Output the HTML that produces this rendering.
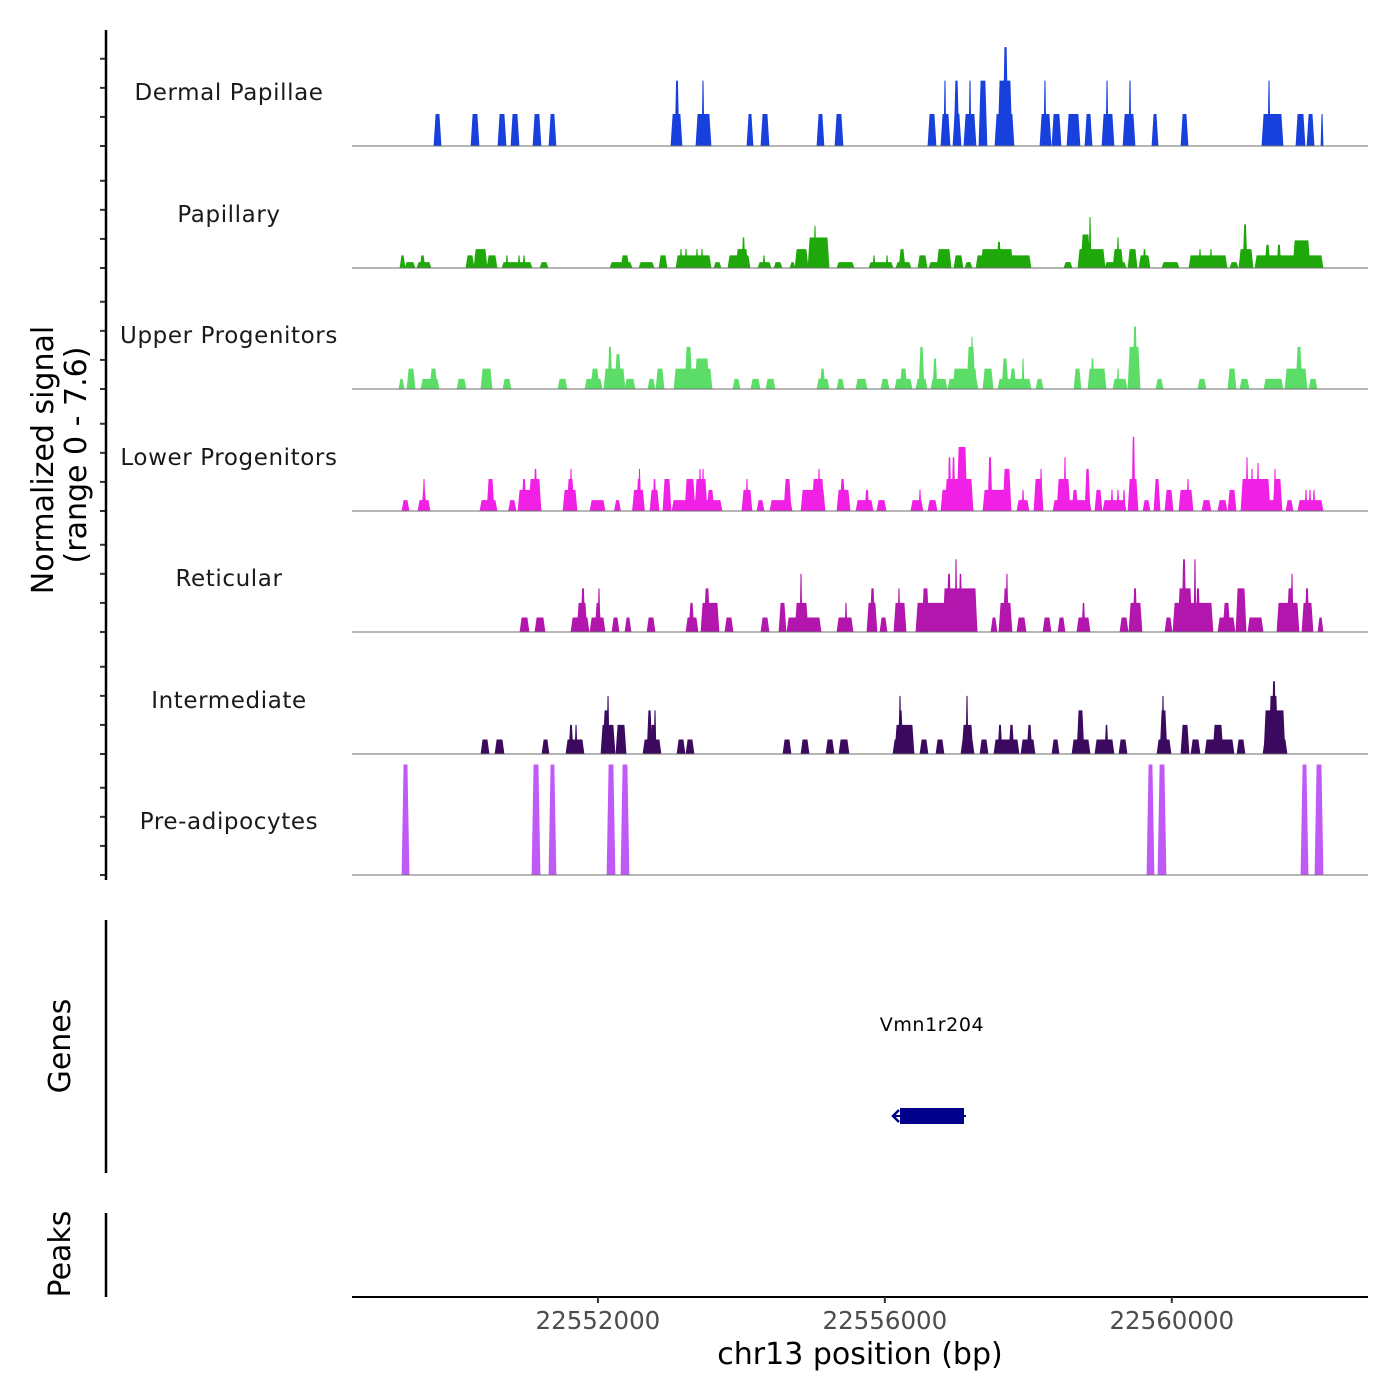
<!DOCTYPE html>
<html><head><meta charset="utf-8"><style>
html,body{margin:0;padding:0;background:#fff;}
svg{display:block;font-family:"DejaVu Sans","Liberation Sans",sans-serif;}
</style></head><body>
<svg id="chart" width="1400" height="1400" viewBox="0 0 1400 1400" xmlns="http://www.w3.org/2000/svg">
<g id="tracks"></g>
<g id="axes"></g>
</svg>
<script>
const regionStart = 22548572;
const regionEnd = 22562735;
const trackNames = ["Dermal Papillae","Papillary","Upper Progenitors","Lower Progenitors","Reticular","Intermediate","Pre-adipocytes"];
const trackColors = ["#1740dd","#1fa80a","#5bdd68","#f020e5","#b216ac","#3b0a5f","#c05af7"];
const yMax = 7.6;
const xTicks = [22552000, 22556000, 22560000];
const xTickLabels = ["22552000","22556000","22560000"];
const yTicks = [0,2,4,6];
// segments: [startOffsetBp, endOffsetBp, signal]
const dermalPapillae = [[1143,1241,2.2],[1659,1770,2.2],[2035,2147,2.2],[2216,2328,2.2],[2523,2634,2.2],[2746,2843,2.2],[4447,4600,2.2],[4503,4558,4.5],[4795,5004,2.2],[4879,4907,4.5],[5506,5590,2.2],[5701,5813,2.2],[6482,6579,2.2],[6733,6844,2.2],[8029,8141,2.2],[8210,8336,2.2],[8252,8280,4.5],[8378,8489,2.2],[8392,8461,4.5],[8531,8698,2.2],[8601,8629,4.5],[8740,8851,4.5],[8963,9228,2.2],[9005,9200,4.5],[9075,9145,6.8],[9591,9744,2.2],[9646,9674,4.5],[9758,9883,2.2],[9967,10148,2.2],[10218,10316,2.2],[10455,10622,2.2],[10511,10539,4.5],[10748,10915,2.2],[10831,10859,4.5],[11152,11236,2.2],[11556,11654,2.2],[12685,12978,2.2],[12769,12797,4.5],[13159,13285,2.2],[13313,13411,2.2],[13508,13536,2.2]];
const papillary = [[669,739,0.87],[739,878,0.4],[906,1101,0.4],[948,1018,0.87],[1589,1701,0.87],[1701,1882,1.3],[1882,2021,0.87],[2091,2509,0.4],[2146,2174,0.87],[2314,2342,0.87],[2384,2412,0.87],[2621,2732,0.4],[3597,3903,0.4],[3750,3861,0.87],[4001,4210,0.4],[4280,4391,0.87],[4517,5005,0.87],[4572,4600,1.3],[4642,4670,1.3],[4795,4823,1.3],[4865,4893,1.3],[5046,5144,0.4],[5241,5548,0.87],[5353,5520,1.3],[5437,5478,2.1],[5660,5841,0.4],[5730,5758,0.87],[5883,5994,0.4],[6106,6176,0.4],[6176,6357,1.3],[6357,6650,2.1],[6440,6468,2.9],[6761,6998,0.4],[7207,7542,0.4],[7263,7291,0.87],[7444,7472,0.87],[7583,7792,0.4],[7625,7709,1.3],[7890,8016,0.87],[8043,8350,0.4],[8155,8350,1.3],[8392,8517,0.87],[8545,8643,0.4],[8699,9465,0.87],[8768,9214,1.3],[8991,9047,1.8],[9925,10037,0.4],[10120,10497,1.3],[10162,10288,2.3],[10274,10302,3.5],[10497,10790,0.4],[10608,10748,1.3],[10664,10692,2.1],[10818,10943,1.3],[10971,11124,0.87],[11027,11068,1.3],[11291,11528,0.4],[11668,12198,0.87],[11807,11835,1.3],[11960,11988,1.3],[12239,12351,0.4],[12365,12560,1.3],[12421,12477,3.0],[12588,13536,0.87],[12727,12797,1.6],[12894,12950,1.6],[13118,13354,1.9]];
const upperProgenitors = [[655,725,0.7],[767,878,1.4],[962,1213,0.7],[1087,1185,1.4],[1464,1589,0.7],[1798,1952,1.4],[2105,2216,0.7],[2872,2997,0.7],[3248,3485,0.7],[3332,3443,1.4],[3513,3806,1.4],[3569,3624,2.9],[3666,3750,2.4],[3806,3945,0.7],[4126,4224,0.7],[4238,4349,1.4],[4489,5018,1.4],[4642,4740,2.9],[4781,4977,2.1],[5311,5409,0.7],[5562,5688,0.7],[5771,5897,0.7],[6482,6650,0.7],[6524,6594,1.4],[6761,6858,0.7],[7026,7179,0.7],[7374,7486,0.7],[7569,7806,0.7],[7639,7737,1.4],[7862,8016,0.7],[7904,7974,2.9],[8071,8294,0.7],[8099,8155,2.1],[8308,8726,0.7],[8378,8713,1.4],[8573,8685,2.9],[8629,8657,3.6],[8796,8936,1.4],[9005,9465,0.7],[9061,9145,2.1],[9172,9256,1.4],[9340,9368,2.1],[9535,9633,0.7],[10065,10162,1.4],[10260,10511,1.4],[10302,10343,2.1],[10608,10804,0.7],[10664,10692,1.4],[10818,10985,2.9],[10887,10943,4.3],[11208,11305,0.7],[11793,11905,0.7],[12211,12323,1.4],[12379,12504,0.7],[12713,12978,0.7],[13006,13313,1.4],[13159,13243,2.9],[13341,13452,0.7]];
const lowerProgenitors = [[697,795,0.75],[920,1087,0.75],[976,1032,1.45],[990,1018,2.2],[1784,2021,0.75],[1882,1980,2.2],[2183,2286,0.75],[2314,2634,1.45],[2370,2426,2.2],[2467,2634,2.2],[2537,2579,2.9],[2942,3137,1.45],[2997,3095,2.2],[3039,3067,2.9],[3318,3527,0.75],[3659,3743,0.75],[3910,4077,1.45],[3966,4035,2.2],[3994,4021,2.9],[4154,4280,1.45],[4196,4238,2.2],[4335,4447,2.2],[4461,5157,0.75],[4642,4781,2.2],[4781,4949,2.2],[4837,4865,2.9],[4879,4907,2.9],[4949,5046,1.45],[5436,5576,1.45],[5492,5520,2.2],[5646,5743,0.75],[5827,6134,0.75],[6022,6120,2.2],[6260,6594,1.45],[6413,6580,2.2],[6496,6524,2.9],[6761,6942,1.45],[6803,6873,2.2],[7026,7263,0.75],[7151,7207,1.45],[7318,7444,0.75],[7792,7959,0.75],[7904,7932,1.45],[8029,8155,0.75],[8210,8657,1.45],[8267,8657,2.2],[8308,8350,3.7],[8364,8406,3.7],[8434,8573,4.4],[8796,9186,1.45],[8866,8922,3.7],[9075,9186,2.9],[9270,9437,0.75],[9340,9368,1.45],[9507,9633,2.2],[9591,9619,2.9],[9772,10302,0.75],[9828,10009,2.2],[9925,9953,3.7],[10037,10120,1.45],[10218,10288,2.9],[10357,10455,1.45],[10469,10790,0.75],[10580,10608,1.45],[10664,10692,1.45],[10748,10776,1.45],[10818,10957,2.2],[10873,10915,5.1],[11027,11124,0.75],[11180,11264,2.2],[11333,11445,1.45],[11528,11724,1.45],[11640,11668,2.2],[11849,11974,0.75],[12072,12198,0.75],[12211,12323,1.45],[12393,12964,0.75],[12393,12797,2.2],[12463,12490,3.7],[12532,12560,2.9],[12616,12644,3.3],[12839,12964,2.2],[12853,12880,2.9],[13020,13118,0.75],[13187,13536,0.75],[13285,13313,1.45],[13341,13369,1.45],[13396,13424,1.45]];
const reticular = [[2342,2467,1],[2551,2690,1],[3053,3304,1],[3137,3276,2],[3192,3248,3],[3318,3527,1],[3388,3471,2],[3429,3457,3],[3625,3722,1],[3806,3889,1],[4113,4224,1],[4656,4823,1],[4698,4767,2],[4865,5116,2],[4907,4990,3],[5199,5311,1],[5701,5813,1],[5952,6050,2],[6064,6538,1],[6176,6357,2],[6245,6273,4],[6761,6984,1],[6872,6900,2],[7179,7318,2],[7221,7291,3],[7360,7458,1],[7555,7723,2],[7611,7639,3],[7862,8713,2],[7946,8043,3],[8238,8713,3],[8294,8350,4],[8406,8434,5],[8461,8503,4],[8908,8991,1],[9019,9200,2],[9075,9158,3],[9116,9144,4],[9270,9396,1],[9633,9744,1],[9842,9939,1],[10106,10288,1],[10176,10218,2],[10706,10818,1],[10831,11012,2],[10887,10943,3],[11333,11431,1],[11445,12002,2],[11514,11710,3],[11570,11626,5],[11737,11765,5],[11765,11821,3],[12072,12309,1],[12142,12239,2],[12323,12463,3],[12490,12700,1],[12894,13201,2],[13034,13118,3],[13090,13118,4],[13243,13396,2],[13285,13341,3],[13466,13536,1]];
const intermediate = [[1798,1910,1],[1994,2119,1],[2649,2746,1],[2983,3234,1],[3025,3081,2],[3109,3137,2],[3471,3666,2],[3499,3583,3],[3555,3583,4],[3680,3820,2],[4057,4307,1],[4113,4182,3],[4154,4238,2],[4210,4238,3],[4531,4642,1],[4656,4767,1],[6008,6120,1],[6259,6371,1],[6608,6719,1],[6789,6928,1],[7542,7834,1],[7569,7834,2],[7611,7681,3],[7625,7653,4],[7918,8029,1],[8141,8252,1],[8489,8671,1],[8503,8657,2],[8559,8587,4],[8754,8866,1],[8949,9298,1],[9005,9061,2],[9158,9228,2],[9326,9521,1],[9409,9479,2],[9758,9856,1],[10037,10288,1],[10106,10204,3],[10357,10622,1],[10497,10539,2],[10692,10804,1],[11222,11417,1],[11264,11361,3],[11291,11319,4],[11556,11668,2],[11696,11821,1],[11891,12295,1],[12002,12142,2],[12337,12448,1],[12700,13034,1],[12713,13006,3],[12783,12908,4],[12825,12880,5]];
const preAdipocytes = [[697,795,7.6],[2509,2621,7.6],[2746,2843,7.6],[3555,3666,7.6],[3750,3861,7.6],[11082,11180,7.6],[11236,11347,7.6],[13229,13327,7.6],[13424,13536,7.6]];
const geneName = "Vmn1r204";
const geneStart = 22556211;
const geneEnd = 22557103;

const NS = "http://www.w3.org/2000/svg";
const plotL = 352, plotR = 1368;
const baselines = [146,268,389,511,632,754,875];
const unitPx = 110.5 / yMax;
function xScale(pos){ return plotL + (pos - regionStart) / (regionEnd - regionStart) * (plotR - plotL); }
function xOff(off){ return xScale(regionStart + off); }
function yScale(t, v){ return baselines[t] - v * unitPx; }
function mk(tag, attrs, parent){
  const el = document.createElementNS(NS, tag);
  for (const k in attrs) el.setAttribute(k, attrs[k]);
  parent.appendChild(el);
  return el;
}
const tracksG = document.getElementById('tracks');
const axesG = document.getElementById('axes');
const allData = [dermalPapillae, papillary, upperProgenitors, lowerProgenitors, reticular, intermediate, preAdipocytes];
const slugs = ["dermal-papillae","papillary","upper-progenitors","lower-progenitors","reticular","intermediate","pre-adipocytes"];

allData.forEach((segs, t) => {
  const g = mk('g', {}, tracksG);
  
  
  segs.forEach(s => {
    const w = xOff(s[1]) - xOff(s[0]);
    const x0 = xOff(s[0]) - 0.4, x1 = xOff(s[1]) + 0.4;
    const yb = baselines[t], yt = yScale(t, s[2]);
    const tp = Math.min(2, (w + 0.8) / 3.2);
    const p = mk('polygon', {points: `${x0},${yb} ${x0+tp},${yt} ${x1-tp},${yt} ${x1},${yb}`, fill: trackColors[t]}, g);
    
    
  });
  const bl = mk('line', {x1: plotL, x2: plotR, y1: baselines[t], y2: baselines[t], stroke: '#6e6e6e', 'stroke-width': 1}, g);
  
  
  const lab = mk('text', {x: 229, y: baselines[t] - 46, 'text-anchor': 'middle', 'font-size': 23, fill: '#1a1a1a', 'letter-spacing': '0.6'}, g);
  lab.textContent = trackNames[t];
  
  
  yTicks.forEach(v => {
    const tk = mk('line', {x1: 100, x2: 106, y1: yScale(t, v), y2: yScale(t, v), stroke: '#333', 'stroke-width': 2}, axesG);
    
    
  });
});

[[30,880,'signal-axis-line'],[920,1173,'genes-axis-line'],[1213,1297,'peaks-axis-line']].forEach(a => {
  const l = mk('line', {x1: 106, x2: 106, y1: a[0], y2: a[1], stroke: '#000', 'stroke-width': 2.5}, axesG);
  
  
});

function rotText(x, y, txt, size, name){
  const t = mk('text', {x: x, y: y, transform: `rotate(-90 ${x} ${y})`, 'text-anchor': 'middle', 'font-size': size, fill: '#000'}, axesG);
  t.textContent = txt;
  
  
}
rotText(53, 460, "Normalized signal", 30, 'y-axis-title');
rotText(86, 455, "(range 0 - 7.6)", 30, 'y-axis-range');
rotText(70, 1046, "Genes", 30, 'genes-title');
rotText(70, 1254, "Peaks", 30, 'peaks-title');

const gx0 = xScale(geneStart), gx1 = xScale(geneEnd);
const gene = mk('rect', {x: gx0, y: 1108, width: gx1 - gx0, height: 16, fill: '#00008b'}, tracksG);


const gl = mk('line', {x1: gx0 - 6, x2: gx1 + 2, y1: 1116, y2: 1116, stroke: '#00008b', 'stroke-width': 2}, tracksG);


const ar = mk('polyline', {points: `${gx0-1},1110 ${gx0-7},1116 ${gx0-1},1122`, fill: 'none', stroke: '#00008b', 'stroke-width': 2.5}, tracksG);


const gt = mk('text', {x: (gx0 + gx1) / 2, y: 1031, 'text-anchor': 'middle', 'font-size': 19, fill: '#000', 'letter-spacing': '0.6'}, tracksG);
gt.textContent = geneName;



const xa = mk('line', {x1: plotL, x2: plotR, y1: 1297, y2: 1297, stroke: '#000', 'stroke-width': 2}, axesG);


xTicks.forEach((v, i) => {
  const x = xScale(v);
  const tk = mk('line', {x1: x, x2: x, y1: 1297, y2: 1303, stroke: '#333', 'stroke-width': 2}, axesG);
  
  
  const tl = mk('text', {x: x, y: 1329, 'text-anchor': 'middle', 'font-size': 24.5, fill: '#4d4d4d'}, axesG);
  tl.textContent = xTickLabels[i];
  
  
});
const xt = mk('text', {x: 860, y: 1364, 'text-anchor': 'middle', 'font-size': 30, fill: '#000'}, axesG);
xt.textContent = "chr13 position (bp)";


</script>
</body></html>
